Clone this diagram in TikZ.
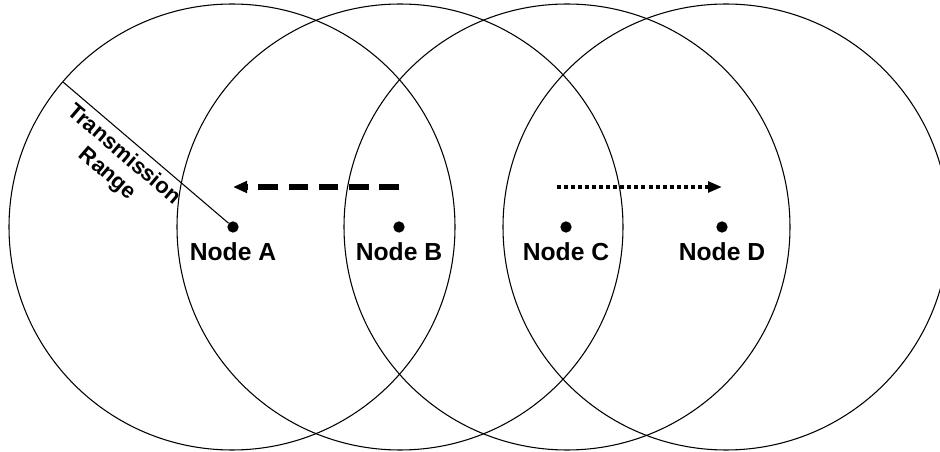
\documentclass[tikz,border=0pt]{standalone}
\usepackage{fontspec}
\setmainfont{Liberation Sans}
\usetikzlibrary{positioning}
\usetikzlibrary{arrows.meta}

\tikzset{
  dot/.style={circle,fill=black,inner sep=0pt,minimum size=8.5pt},
  nodelabel/.style={font=\fontsize{18.5}{22}\selectfont\bfseries,inner sep=2pt},
  txrange/.style={line width=0.8pt},
}

\begin{document}
\begin{tikzpicture}[x=0.75pt,y=-0.75pt]
 \useasboundingbox (0,0) rectangle (940,452);
 \clip (0,0) rectangle (940,452);
% ranges
 \draw[txrange] (232,227) circle (167.25pt);
 \draw[txrange] (400,227) circle (167.25pt);
 \draw[txrange] (567,227) circle (167.25pt);
 \draw[txrange] (726,227) circle (167.25pt);
% nodes
 \node[dot] (A) at (233,227) {};
 \node[dot] (B) at (399,227) {};
 \node[dot] (C) at (566,227) {};
 \node[dot] (D) at (722,227) {};
 \node[nodelabel,below=5pt of A] (lA) {Node A};
 \node[nodelabel,below=5pt of B] (lB) {Node B};
 \node[nodelabel,below=5pt of C] (lC) {Node C};
 \node[nodelabel,below=5pt of D] (lD) {Node D};
% radius
 \coordinate (rim) at (63,82);
 \draw[line width=0.8pt] (rim) -- (A) node[pos=.43,below,sloped,align=center,inner sep=4pt,
   font=\fontsize{16.5}{19}\selectfont\bfseries] {Transmission\\Range};
% movements
 \coordinate (bs) at ([yshift=30pt]B);
 \coordinate (ae) at ([yshift=30pt]A);
 \draw[line width=3.8pt,dash pattern=on 14.7pt off 8pt,
   -{Triangle[length=10.5pt,width=8.5pt]}] (bs) -- (ae);
 \coordinate (cs) at ([xshift=-7pt,yshift=30pt]C);
 \coordinate (de) at ([yshift=30pt]D);
 \draw[line width=3pt,dash pattern=on 3pt off 2.3pt,
   -{Triangle[length=10.5pt,width=8pt]}] (cs) -- (de);
\end{tikzpicture}
\end{document}
